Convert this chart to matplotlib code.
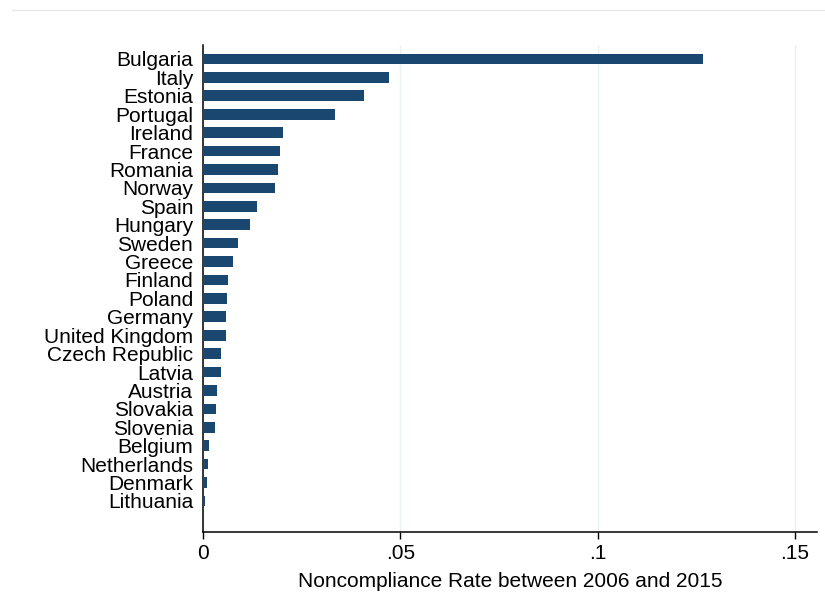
import matplotlib
matplotlib.use("Agg")
from matplotlib import pyplot as plt
from matplotlib.lines import Line2D
import numpy as np

countries = ["Bulgaria", "Italy", "Estonia", "Portugal", "Ireland", "France", "Romania",
             "Norway", "Spain", "Hungary", "Sweden", "Greece", "Finland", "Poland",
             "Germany", "United Kingdom", "Czech Republic", "Latvia", "Austria",
             "Slovakia", "Slovenia", "Belgium", "Netherlands", "Denmark", "Lithuania"]
rates = [0.1266, 0.0471, 0.0408, 0.0335, 0.0204, 0.0196, 0.0189, 0.0183, 0.0136,
         0.0118, 0.0088, 0.0076, 0.0063, 0.0060, 0.0059, 0.0058, 0.0046, 0.0045,
         0.0036, 0.0032, 0.0031, 0.0016, 0.0012, 0.0009, 0.0005]
xticks = [0, 0.05, 0.1, 0.15]
xticklabels = ["0", ".05", ".1", ".15"]

plt.rcParams["font.family"] = ["Liberation Sans", "DejaVu Sans"]

fig = plt.figure(figsize=(8.25, 5.99), dpi=100, facecolor="white")
ax = fig.add_axes([0.246, 0.112, 0.744, 0.813])

pos = np.arange(len(countries))
ax.barh(pos, rates, height=0.58, color="#1a476f", zorder=3)

ax.set_yticks(pos)
ax.set_yticklabels(countries, fontsize=15)
ax.tick_params(axis="y", length=0, pad=7)
ax.set_ylim(len(countries) - 1 + 1.68, -0.76)

ax.set_xlim(0, 0.1555)
ax.set_xticks(xticks)
ax.set_xticklabels(xticklabels, fontsize=15)
ax.tick_params(axis="x", length=5, width=1, pad=4, color="black")
ax.set_xlabel("Noncompliance Rate between 2006 and 2015", fontsize=15, labelpad=6)

ax.grid(axis="x", color="#eaf2f3", lw=1, zorder=0)
for s in ["top", "right"]:
    ax.spines[s].set_visible(False)
for s in ["left", "bottom"]:
    ax.spines[s].set_linewidth(1.1)

fig.add_artist(Line2D([0.015, 1.0], [0.983, 0.983], color="#e6eaec", lw=1))

fig.savefig("out.png", dpi=100, facecolor="white")
